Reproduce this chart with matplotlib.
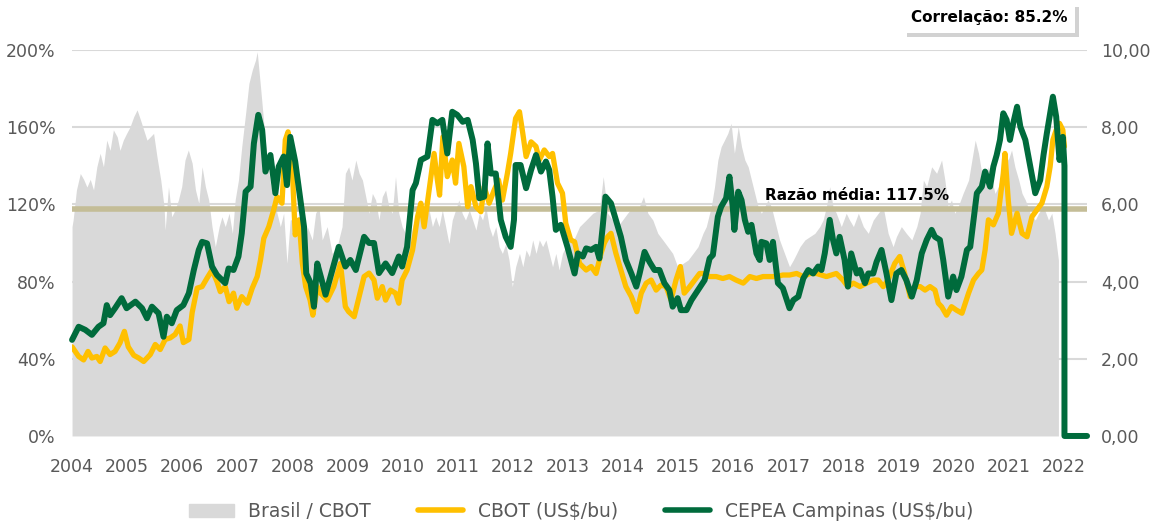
import matplotlib
matplotlib.use("Agg")
import matplotlib.pyplot as plt
import matplotlib.patheffects as pe
from matplotlib.lines import Line2D
from matplotlib.patches import Patch
from matplotlib.ticker import FuncFormatter

# Brasil / CBOT ratio (%), grey area, left axis
ratio_year = [2004.00, 2004.02, 2004.08, 2004.15, 2004.21, 2004.27, 2004.33, 2004.39, 2004.45, 2004.51,
              2004.57, 2004.63, 2004.69, 2004.75, 2004.82, 2004.87, 2004.93, 2004.99, 2005.05, 2005.12,
              2005.18, 2005.24, 2005.30, 2005.36, 2005.42, 2005.48, 2005.54, 2005.61, 2005.67, 2005.69,
              2005.75, 2005.81, 2005.87, 2005.93, 2005.99, 2006.05, 2006.11, 2006.18, 2006.24, 2006.30,
              2006.36, 2006.42, 2006.48, 2006.54, 2006.60, 2006.67, 2006.72, 2006.78, 2006.85, 2006.91,
              2006.96, 2007.02, 2007.08, 2007.15, 2007.21, 2007.27, 2007.33, 2007.36, 2007.42, 2007.48,
              2007.54, 2007.60, 2007.67, 2007.72, 2007.78, 2007.84, 2007.90, 2007.96, 2008.02, 2008.11,
              2008.20, 2008.27, 2008.36, 2008.42, 2008.48, 2008.54, 2008.63, 2008.72, 2008.81, 2008.90,
              2008.96, 2009.02, 2009.08, 2009.15, 2009.21, 2009.27, 2009.33, 2009.39, 2009.45, 2009.51,
              2009.57, 2009.63, 2009.69, 2009.75, 2009.81, 2009.87, 2009.93, 2009.99, 2010.05, 2010.12,
              2010.18, 2010.24, 2010.30, 2010.36, 2010.42, 2010.48, 2010.54, 2010.60, 2010.66, 2010.72,
              2010.78, 2010.84, 2010.90, 2010.96, 2011.02, 2011.08, 2011.14, 2011.21, 2011.27, 2011.33,
              2011.39, 2011.45, 2011.51, 2011.57, 2011.63, 2011.69, 2011.75, 2011.81, 2011.87, 2011.93,
              2011.99, 2012.05, 2012.12, 2012.18, 2012.24, 2012.30, 2012.36, 2012.42, 2012.48, 2012.54,
              2012.60, 2012.66, 2012.72, 2012.78, 2012.84, 2012.90, 2012.96, 2013.02, 2013.08, 2013.21,
              2013.33, 2013.45, 2013.57, 2013.64, 2013.72, 2013.81, 2013.90, 2013.99, 2014.08, 2014.18,
              2014.27, 2014.37, 2014.45, 2014.54, 2014.63, 2014.72, 2014.81, 2014.90, 2014.99, 2015.09,
              2015.18, 2015.27, 2015.36, 2015.45, 2015.51, 2015.60, 2015.66, 2015.72, 2015.78, 2015.84,
              2015.90, 2015.96, 2016.02, 2016.09, 2016.15, 2016.21, 2016.27, 2016.33, 2016.39, 2016.45,
              2016.51, 2016.57, 2016.63, 2016.69, 2016.75, 2016.84, 2016.93, 2017.02, 2017.09, 2017.15,
              2017.21, 2017.30, 2017.39, 2017.48, 2017.57, 2017.63, 2017.69, 2017.75, 2017.81, 2017.87,
              2017.96, 2018.05, 2018.11, 2018.18, 2018.27, 2018.36, 2018.45, 2018.54, 2018.63, 2018.72,
              2018.81, 2018.90, 2018.96, 2019.05, 2019.14, 2019.24, 2019.33, 2019.39, 2019.45, 2019.51,
              2019.60, 2019.69, 2019.78, 2019.84, 2019.90, 2019.96, 2020.02, 2020.08, 2020.17, 2020.27,
              2020.33, 2020.39, 2020.45, 2020.51, 2020.57, 2020.63, 2020.69, 2020.75, 2020.81, 2020.87,
              2020.93, 2020.99, 2021.05, 2021.11, 2021.18, 2021.24, 2021.30, 2021.39, 2021.48, 2021.54,
              2021.63, 2021.72, 2021.78, 2021.84, 2021.90]
ratio_pct = [108.5, 112, 127.5, 136, 133, 129, 133, 127.5, 139.5, 146.5,
             139.5, 153.3, 148, 158.6, 155, 148, 153.3, 156.8, 160, 165.5,
             169, 164, 158.6, 153.3, 155, 156.8, 144.9, 132.6, 118.8, 106.7,
             129.2, 113.6, 117.1, 122.3, 129.2, 143, 148.2, 141.3, 127.5, 120.6,
             139.5, 129.2, 122.3, 108.5, 98.1, 108.5, 113.6, 108.5, 115.4, 105,
             122.3, 132.6, 149.9, 167.2, 182.7, 189.6, 194.8, 199.1, 181, 162,
             143, 130.9, 122.3, 115.4, 108.5, 115.4, 89.5, 112, 112, 105,
             98.1, 108.5, 101.6, 115.4, 118.8, 101.6, 108.5, 94.6, 98.1, 108.5,
             136.1, 139.5, 132.6, 143, 136.1, 132.6, 124, 115.4, 125.7, 122.3,
             111.9, 124, 127.5, 118.8, 115.4, 134.4, 115.4, 108.5, 105, 99.7,
             108.5, 113.6, 118.8, 108.5, 113.6, 117.1, 108.5, 113.6, 108.5, 117.1,
             108.5, 99.7, 111.9, 117.1, 122.3, 115.4, 111.9, 117.1, 111.9, 106.7,
             115.4, 111.9, 118.8, 108.5, 103.3, 108.5, 98.1, 94.6, 99.7, 91.2,
             77.4, 87.7, 94.6, 87.7, 96.4, 92.9, 101.6, 94.6, 101.6, 98.1,
             101.6, 94.6, 87.7, 94.6, 86, 94.6, 98.1, 101.6, 100, 108.5,
             111.9, 115.4, 117.1, 134.4, 115.4, 111.9, 108.5, 111.9, 115.4, 118.8,
             117.1, 124, 115.4, 111.9, 105, 101.6, 98.1, 94.6, 87.7, 89.5,
             91.2, 94.6, 98.1, 105, 108.5, 118.8, 129.2, 143, 149.9, 153.3,
             156.8, 162, 146.5, 160.3, 149.9, 143, 139.5, 132.6, 125.7, 118.8,
             115.4, 118.8, 122.3, 118.8, 111.9, 101.6, 94.6, 87.7, 91.2, 94.6,
             98.1, 101.6, 103.3, 105, 108.5, 111.9, 118.8, 129.2, 118.8, 115.4,
             108.5, 115.4, 111.9, 108.5, 115.4, 108.5, 105, 111.9, 115.4, 118.8,
             105, 98.1, 103.3, 108.5, 105, 101.6, 108.5, 115.4, 132.6, 129.2,
             139.5, 136.1, 143, 132.6, 118.8, 122.3, 115.4, 118.8, 125.7, 132.6,
             143, 153.3, 146.5, 136.1, 132.6, 139.5, 132.6, 125.7, 129.2, 136.1,
             146.5, 143, 148.2, 139.5, 132.6, 125.7, 122.3, 115.4, 111.9, 115.4,
             118.8, 111.9, 115.4, 105, 91.2]

# CBOT (US$/bu), right axis
cbot_year = [2004.00, 2004.12, 2004.21, 2004.29, 2004.36, 2004.45, 2004.51, 2004.60, 2004.69, 2004.78,
             2004.87, 2004.95, 2005.02, 2005.12, 2005.21, 2005.30, 2005.42, 2005.51, 2005.60, 2005.69,
             2005.78, 2005.87, 2005.96, 2006.02, 2006.12, 2006.18, 2006.27, 2006.36, 2006.45, 2006.54,
             2006.63, 2006.69, 2006.78, 2006.85, 2006.93, 2006.99, 2007.08, 2007.18, 2007.27, 2007.36,
             2007.42, 2007.48, 2007.57, 2007.66, 2007.72, 2007.81, 2007.87, 2007.92, 2007.99, 2008.05,
             2008.12, 2008.18, 2008.24, 2008.32, 2008.37, 2008.45, 2008.51, 2008.63, 2008.75, 2008.87,
             2008.96, 2009.02, 2009.12, 2009.21, 2009.30, 2009.39, 2009.48, 2009.54, 2009.63, 2009.69,
             2009.78, 2009.87, 2009.93, 2009.99, 2010.08, 2010.18, 2010.27, 2010.33, 2010.39, 2010.48,
             2010.57, 2010.63, 2010.67, 2010.73, 2010.81, 2010.90, 2010.96, 2011.02, 2011.11, 2011.18,
             2011.24, 2011.33, 2011.42, 2011.48, 2011.57, 2011.66, 2011.74, 2011.81, 2011.90, 2011.96,
             2012.05, 2012.12, 2012.18, 2012.24, 2012.33, 2012.42, 2012.48, 2012.57, 2012.66, 2012.72,
             2012.81, 2012.90, 2012.96, 2013.05, 2013.12, 2013.21, 2013.33, 2013.42, 2013.51, 2013.60,
             2013.66, 2013.72, 2013.78, 2013.87, 2013.96, 2014.05, 2014.15, 2014.25, 2014.33, 2014.42,
             2014.51, 2014.60, 2014.69, 2014.78, 2014.87, 2014.96, 2015.04, 2015.11, 2015.21, 2015.30,
             2015.39, 2015.45, 2015.57, 2015.69, 2015.81, 2015.93, 2016.05, 2016.18, 2016.30, 2016.42,
             2016.54, 2016.66, 2016.78, 2016.90, 2017.02, 2017.15, 2017.27, 2017.39, 2017.51, 2017.69,
             2017.87, 2017.99, 2018.08, 2018.18, 2018.30, 2018.42, 2018.54, 2018.63, 2018.72, 2018.81,
             2018.93, 2019.02, 2019.11, 2019.21, 2019.30, 2019.39, 2019.48, 2019.57, 2019.66, 2019.72,
             2019.78, 2019.87, 2019.96, 2020.05, 2020.15, 2020.21, 2020.27, 2020.36, 2020.45, 2020.51,
             2020.57, 2020.63, 2020.72, 2020.81, 2020.90, 2020.93, 2020.99, 2021.05, 2021.15, 2021.24,
             2021.33, 2021.42, 2021.51, 2021.60, 2021.69, 2021.75, 2021.80, 2021.86, 2021.92, 2021.98,
             2022.01]
cbot_val = [2.31, 2.06, 1.97, 2.19, 2.02, 2.06, 1.93, 2.28, 2.11, 2.19,
            2.41, 2.71, 2.31, 2.09, 2.02, 1.93, 2.11, 2.37, 2.24, 2.50,
            2.54, 2.63, 2.85, 2.42, 2.50, 3.20, 3.83, 3.87, 4.09, 4.30,
            4.00, 3.74, 3.87, 3.48, 3.70, 3.31, 3.61, 3.44, 3.83, 4.13,
            4.56, 5.12, 5.42, 5.86, 6.20, 6.03, 7.67, 7.88, 7.15, 5.21,
            5.60, 4.47, 3.87, 3.52, 3.13, 3.87, 3.70, 3.52, 3.87, 4.47,
            3.35, 3.22, 3.09, 3.61, 4.13, 4.22, 4.04, 3.57, 3.87, 3.52,
            3.78, 3.70, 3.44, 4.04, 4.30, 4.82, 5.68, 6.03, 5.42, 6.37,
            7.32, 6.63, 6.24, 7.75, 6.72, 7.15, 6.55, 7.58, 6.98, 5.94,
            6.46, 5.94, 5.81, 6.46, 6.03, 6.37, 6.63, 6.11, 6.80, 7.32,
            8.23, 8.40, 7.84, 7.24, 7.62, 7.50, 7.15, 7.41, 7.24, 7.32,
            6.55, 6.29, 5.51, 5.08, 5.03, 4.47, 4.30, 4.39, 4.21, 4.73,
            5.00, 5.16, 5.25, 4.73, 4.30, 3.87, 3.61, 3.22, 3.70, 3.96,
            4.04, 3.78, 3.91, 3.87, 3.52, 4.04, 4.39, 3.70, 3.87, 4.04,
            4.21, 4.21, 4.13, 4.13, 4.08, 4.13, 4.04, 3.96, 4.13, 4.08,
            4.13, 4.13, 4.13, 4.17, 4.17, 4.21, 4.13, 4.21, 4.21, 4.13,
            4.21, 4.04, 3.87, 3.96, 3.87, 3.96, 4.04, 4.04, 3.87, 4.04,
            4.47, 4.65, 4.21, 3.61, 3.87, 3.87, 3.78, 3.87, 3.78, 3.44,
            3.35, 3.13, 3.35, 3.26, 3.18, 3.44, 3.70, 4.04, 4.21, 4.30,
            4.82, 5.60, 5.47, 5.77, 6.80, 7.32, 6.11, 5.25, 5.77, 5.25,
            5.16, 5.68, 5.86, 6.03, 6.46, 6.98, 7.67, 7.93, 8.10, 7.93,
            7.50]

# CEPEA Campinas (US$/bu), right axis
cepea_year = [2004.00, 2004.12, 2004.24, 2004.36, 2004.48, 2004.57, 2004.63, 2004.69, 2004.78, 2004.90,
              2004.99, 2005.15, 2005.27, 2005.36, 2005.45, 2005.57, 2005.66, 2005.72, 2005.81, 2005.90,
              2006.02, 2006.12, 2006.21, 2006.30, 2006.36, 2006.45, 2006.54, 2006.63, 2006.78, 2006.84,
              2006.93, 2007.02, 2007.08, 2007.15, 2007.24, 2007.30, 2007.38, 2007.45, 2007.51, 2007.60,
              2007.69, 2007.75, 2007.84, 2007.90, 2007.96, 2008.05, 2008.12, 2008.21, 2008.25, 2008.33,
              2008.39, 2008.45, 2008.52, 2008.60, 2008.84, 2008.96, 2009.05, 2009.15, 2009.30, 2009.39,
              2009.48, 2009.57, 2009.69, 2009.81, 2009.93, 2009.99, 2010.08, 2010.18, 2010.24, 2010.33,
              2010.45, 2010.54, 2010.63, 2010.72, 2010.81, 2010.90, 2010.99, 2011.09, 2011.18, 2011.27,
              2011.33, 2011.39, 2011.48, 2011.54, 2011.60, 2011.69, 2011.78, 2011.87, 2011.96, 2012.02,
              2012.05, 2012.14, 2012.24, 2012.33, 2012.42, 2012.51, 2012.60, 2012.66, 2012.72, 2012.78,
              2012.87, 2012.99, 2013.12, 2013.18, 2013.27, 2013.33, 2013.42, 2013.51, 2013.57, 2013.63,
              2013.68, 2013.78, 2013.87, 2013.96, 2014.05, 2014.15, 2014.24, 2014.30, 2014.39, 2014.48,
              2014.57, 2014.66, 2014.75, 2014.84, 2014.90, 2014.99, 2015.05, 2015.15, 2015.24, 2015.36,
              2015.48, 2015.57, 2015.63, 2015.72, 2015.78, 2015.87, 2015.93, 2015.99, 2016.02, 2016.09,
              2016.15, 2016.21, 2016.27, 2016.33, 2016.42, 2016.48, 2016.51, 2016.60, 2016.66, 2016.72,
              2016.81, 2016.90, 2017.02, 2017.09, 2017.18, 2017.27, 2017.36, 2017.45, 2017.54, 2017.60,
              2017.66, 2017.75, 2017.81, 2017.87, 2017.93, 2018.02, 2018.08, 2018.14, 2018.24, 2018.30,
              2018.39, 2018.45, 2018.54, 2018.60, 2018.69, 2018.78, 2018.87, 2018.96, 2019.05, 2019.14,
              2019.24, 2019.33, 2019.42, 2019.51, 2019.60, 2019.66, 2019.75, 2019.81, 2019.90, 2019.99,
              2020.05, 2020.14, 2020.24, 2020.30, 2020.36, 2020.42, 2020.51, 2020.57, 2020.66, 2020.72,
              2020.78, 2020.84, 2020.90, 2020.96, 2021.02, 2021.08, 2021.15, 2021.21, 2021.30, 2021.39,
              2021.48, 2021.57, 2021.63, 2021.69, 2021.75, 2021.80, 2021.86, 2021.92, 2021.98, 2022.01,
              2022.01, 2022.42]
cepea_val = [2.49, 2.83, 2.75, 2.62, 2.83, 2.92, 3.39, 3.13, 3.31, 3.57,
             3.31, 3.48, 3.31, 3.05, 3.35, 3.18, 2.57, 3.09, 2.92, 3.26,
             3.39, 3.70, 4.30, 4.82, 5.03, 4.99, 4.39, 4.17, 3.96, 4.34,
             4.30, 4.65, 5.25, 6.33, 6.46, 7.58, 8.32, 7.93, 6.85, 7.28,
             6.29, 6.98, 7.24, 6.50, 7.75, 7.11, 6.37, 5.42, 4.21, 3.96,
             3.35, 4.47, 4.10, 3.66, 4.90, 4.39, 4.56, 4.30, 5.16, 5.00,
             5.00, 4.22, 4.47, 4.22, 4.65, 4.39, 4.90, 6.37, 6.55, 7.15,
             7.24, 8.19, 8.10, 8.19, 7.32, 8.40, 8.32, 8.14, 8.19, 7.67,
             7.06, 6.16, 6.20, 7.58, 6.80, 6.80, 5.60, 5.16, 4.90, 5.60,
             7.02, 7.02, 6.42, 6.89, 7.28, 6.85, 7.11, 6.89, 6.20, 5.34,
             5.47, 4.90, 4.21, 4.73, 4.65, 4.86, 4.82, 4.90, 4.60, 5.42,
             6.20, 6.03, 5.60, 5.16, 4.56, 4.21, 3.87, 4.21, 4.77, 4.51,
             4.30, 4.30, 3.96, 3.78, 3.35, 3.57, 3.26, 3.26, 3.52, 3.78,
             4.04, 4.60, 4.69, 5.68, 5.94, 6.16, 6.72, 5.94, 5.34, 6.33,
             6.11, 5.60, 5.29, 5.47, 4.73, 4.56, 5.03, 4.99, 4.56, 5.03,
             3.96, 3.83, 3.31, 3.52, 3.61, 4.08, 4.30, 4.21, 4.39, 4.30,
             4.73, 5.60, 5.08, 4.73, 5.16, 4.56, 3.87, 4.73, 4.21, 4.30,
             3.96, 4.21, 4.21, 4.51, 4.82, 4.21, 3.52, 4.21, 4.30, 4.04,
             3.61, 4.04, 4.73, 5.08, 5.34, 5.16, 5.08, 4.56, 3.61, 4.13,
             3.78, 4.13, 4.82, 4.90, 5.60, 6.29, 6.46, 6.85, 6.46, 6.98,
             7.28, 7.67, 8.36, 8.19, 7.67, 8.10, 8.53, 8.01, 7.67, 6.98,
             6.29, 6.63, 7.28, 7.84, 8.36, 8.79, 8.27, 7.15, 7.75, 7.00,
             0.0, 0.0]

ratio_mean = 117.5
correlation = 85.2
years = list(range(2004, 2023))
left_ticks = [0, 40, 80, 120, 160, 200]
right_ticks = [0, 2, 4, 6, 8, 10]

GREY = "#d9d9d9"
YELLOW = "#ffc000"
GREEN = "#006b3c"
TAN = "#c4bd97"
TXT = "#595959"

fig = plt.figure(figsize=(11.62, 5.22), dpi=100)
ax = fig.add_axes([0.062, 0.1648, 0.8735, 0.7394])
ax2 = ax.twinx()

for t in left_ticks[1:]:
    ax.axhline(t, color="#d9d9d9", lw=1.5, zorder=0)
ax.fill_between(ratio_year, 0, ratio_pct, color=GREY, lw=0, zorder=1)
ax.axhline(ratio_mean, color=TAN, lw=4, zorder=2)
ax.text(2018.25, ratio_mean + 3, f"Razão média: {ratio_mean}%", ha="center", va="bottom",
        fontsize=11, fontweight="bold", color="black", zorder=5)

ax2.plot(cbot_year, cbot_val, color=YELLOW, lw=3.8, solid_capstyle="round", solid_joinstyle="round")
ax2.plot(cepea_year, cepea_val, color=GREEN, lw=4.3, solid_capstyle="round",
         solid_joinstyle="round", clip_on=False)

ax.set_xlim(2004, 2022.42)
ax.set_ylim(0, 200)
ax2.set_ylim(0, 10)
ax.set_xticks(years)
ax.set_xticklabels([str(y) for y in years])
ax.set_yticks(left_ticks)
ax.yaxis.set_major_formatter(FuncFormatter(lambda v, p: f"{v:.0f}%"))
ax2.set_yticks(right_ticks)
ax2.yaxis.set_major_formatter(FuncFormatter(lambda v, p: f"{v:.2f}".replace(".", ",")))

for a in (ax, ax2):
    for s in a.spines.values():
        s.set_visible(False)
    a.tick_params(length=0, labelsize=12.5, labelcolor=TXT)
ax.tick_params(axis="x", pad=16)
ax.tick_params(axis="y", pad=12)
ax2.tick_params(axis="y", pad=10)

corr = fig.text(0.851, 0.966, f"Correlação: {correlation}%", ha="center", va="center",
                fontsize=11, fontweight="bold", color="black",
                bbox=dict(boxstyle="square,pad=0.5", fc="white", ec="none"))
corr.get_bbox_patch().set_path_effects(
    [pe.SimplePatchShadow(offset=(3, -3), shadow_rgbFace="#a6a6a6", alpha=0.5), pe.Normal()])

handles = [Patch(color=GREY, label="Brasil / CBOT"),
           Line2D([], [], color=YELLOW, lw=4, solid_capstyle="round", label="CBOT (US$/bu)"),
           Line2D([], [], color=GREEN, lw=4, solid_capstyle="round", label="CEPEA Campinas (US$/bu)")]
fig.legend(handles=handles, loc="lower center", bbox_to_anchor=(0.5, -0.03), ncol=3,
           frameon=False, fontsize=13.5, handlelength=2.4, handletextpad=0.8, columnspacing=2.5,
           labelcolor=TXT)

fig.savefig("out.png", dpi=100)
